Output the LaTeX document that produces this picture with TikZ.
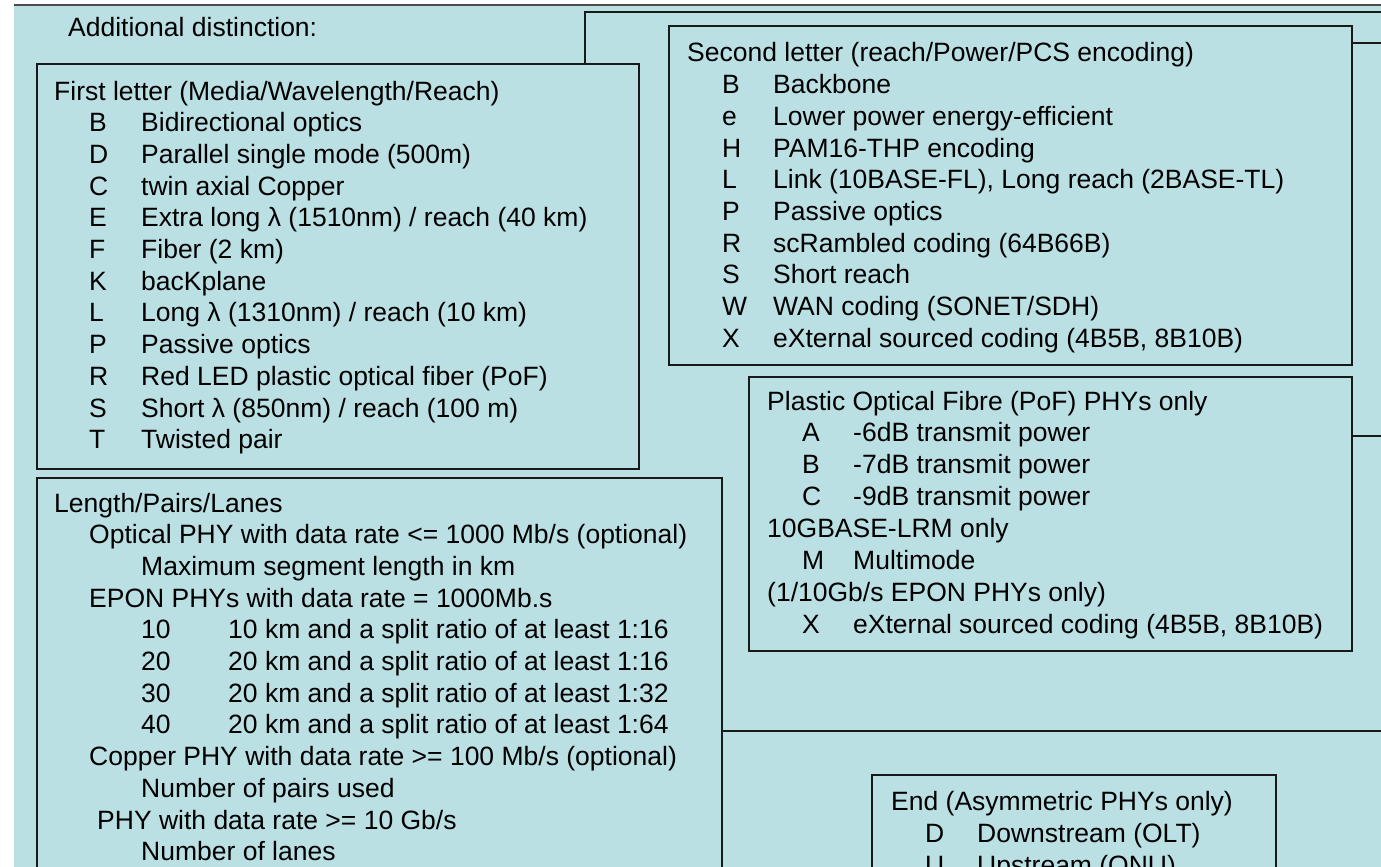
\documentclass[tikz,border=0pt]{standalone}
\usepackage{fontspec}
\setmainfont{Liberation Sans}
\definecolor{panel}{RGB}{186,224,227}

\begin{document}
\begin{tikzpicture}[
  x=1pt,
  y=-1pt,
  frame/.style={
    draw=black!90,
    line width=2pt
  },
  row/.style={
    anchor=base west,
    inner sep=0pt,
    text=black,
    font=\fontsize{26.5}{31}\selectfont
  },
]
\useasboundingbox (0,0) rectangle (1381,867);
\clip (0,0) rectangle (1381,867);
\fill[panel] (14,5) rectangle (1381,867);
\draw[black!70, line width=2.5pt] (14,5) -- (1381,5);

\node[row] (add) at (68,37) {Additional distinction:};
\draw[frame] (585,64) -- (585,12) -- (1381,12);

% first letter
\draw[frame] (37,64) rectangle (639,469);
\node[row] (fl) at (54,100) {First letter (Media/Wavelength/Reach)};
\foreach \c/\d [count=\i] in {
  B/{Bidirectional optics},
  D/{Parallel single mode (500m)},
  C/{twin axial Copper},
  E/{Extra long λ (1510nm) / reach (40 km)},
  F/{Fiber (2 km)},
  K/{bacKplane},
  L/{Long λ (1310nm) / reach (10 km)},
  P/{Passive optics},
  R/{Red LED plastic optical fiber (PoF)},
  S/{Short λ (850nm) / reach (100 m)},
  T/{Twisted pair}}{
  \node[row] (fl-c\i) at (89,100+31.7*\i) {\c};
  \node[row] (fl-d\i) at (141,100+31.7*\i) {\d};
}

% second letter
\draw[frame] (669,26) rectangle (1352,365);
\draw[frame] (1352,43) -- (1381,43);
\node[row] (sl) at (687,62) {Second letter (reach/Power/PCS encoding)};
\foreach \c/\d [count=\i] in {
  B/{Backbone},
  e/{Lower power energy-efficient},
  H/{PAM16-THP encoding},
  L/{Link (10BASE-FL), Long reach (2BASE-TL)},
  P/{Passive optics},
  R/{scRambled coding (64B66B)},
  S/{Short reach},
  W/{WAN coding (SONET/SDH)},
  X/{eXternal sourced coding (4B5B, 8B10B)}}{
  \node[row] (sl-c\i) at (722,62+31.7*\i) {\c};
  \node[row] (sl-d\i) at (773,62+31.7*\i) {\d};
}

% plastic optical fibre
\draw[frame] (749,377) rectangle (1352,651);
\draw[frame] (1352,436) -- (1381,436);
\node[row] (pof) at (767,410) {Plastic Optical Fibre (PoF) PHYs only};
\foreach \c/\d [count=\i] in {
  A/{-6dB transmit power},
  B/{-7dB transmit power},
  C/{-9dB transmit power}}{
  \node[row] (pof-c\i) at (802,410+31.7*\i) {\c};
  \node[row] (pof-d\i) at (853,410+31.7*\i) {\d};
}
\node[row] (lrm) at (767,537) {10GBASE-LRM only};
\node[row] (lrm-c) at (802,569) {M};
\node[row] (lrm-d) at (853,569) {Multimode};
\node[row] (epon) at (767,601) {(1/10Gb/s EPON PHYs only)};
\node[row] (epon-c) at (802,633) {X};
\node[row] (epon-d) at (853,633) {eXternal sourced coding (4B5B, 8B10B)};

% length/pairs/lanes
\draw[frame] (37,478) rectangle (722,900);
\draw[frame] (722,731) -- (1381,731);
\node[row] (len) at (54,512) {Length/Pairs/Lanes};
\foreach \r/\x/\t in {
  1/89/{Optical PHY with data rate <= 1000 Mb/s (optional)},
  2/141/{Maximum segment length in km},
  3/89/{EPON PHYs with data rate = 1000Mb.s},
  8/89/{Copper PHY with data rate >= 100 Mb/s (optional)},
  9/141/{Number of pairs used},
  10/97/{PHY with data rate >= 10 Gb/s},
  11/141/{Number of lanes}}{
  \node[row] (len-\r) at (\x,512+31.7*\r) {\t};
}
\foreach \n/\t [count=\i from 4] in {
  10/{10 km and a split ratio of at least 1:16},
  20/{20 km and a split ratio of at least 1:16},
  30/{20 km and a split ratio of at least 1:32},
  40/{20 km and a split ratio of at least 1:64}}{
  \node[row] (len-n\i) at (141,512+31.7*\i) {\n};
  \node[row] (len-\i) at (228,512+31.7*\i) {\t};
}

% end
\draw[frame] (872,775) rectangle (1276,900);
\node[row] (end) at (891,810) {End (Asymmetric PHYs only)};
\node[row] (end-c1) at (925,842) {D};
\node[row] (end-d1) at (977,842) {Downstream (OLT)};
\node[row] (end-c2) at (925,874) {U};
\node[row] (end-d2) at (977,874) {Upstream (ONU)};
\end{tikzpicture}
\end{document}
